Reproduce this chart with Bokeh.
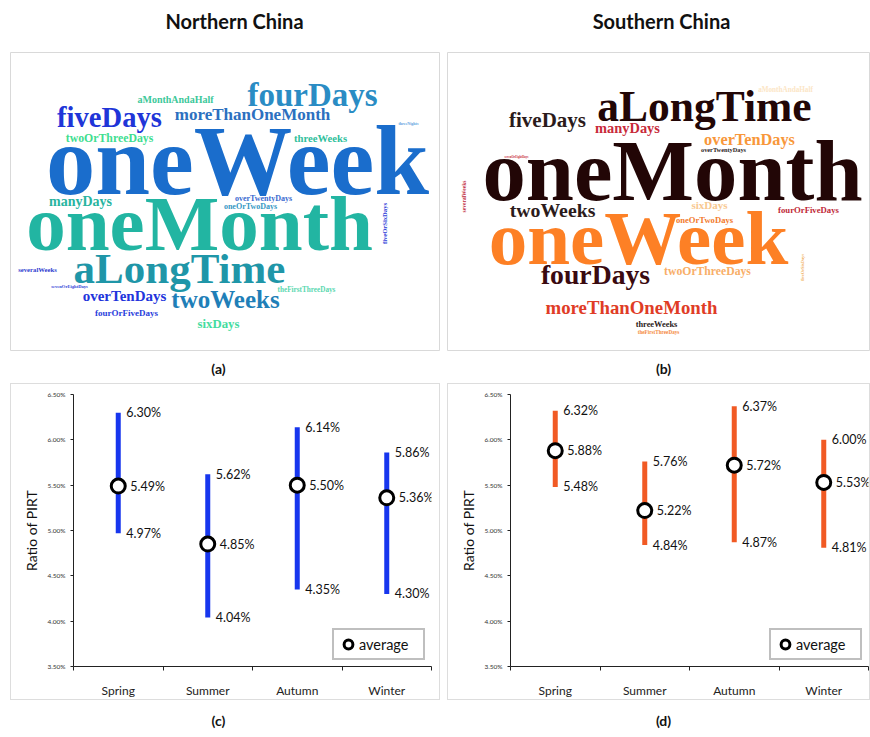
import math
from bokeh.plotting import figure
from bokeh.layouts import column, row
from bokeh.models import (ColumnDataSource, Range1d, FixedTicker, Legend, LegendItem)
from bokeh.core.properties import value
from bokeh.embed import file_html
from bokeh.resources import INLINE

# ---------------- data ----------------
seasons = ["Spring", "Summer", "Autumn", "Winter"]
north_max = [6.30, 5.62, 6.14, 5.86]
north_avg = [5.49, 4.85, 5.50, 5.36]
north_min = [4.97, 4.04, 4.35, 4.30]
south_max = [6.32, 5.76, 6.37, 6.00]
south_avg = [5.88, 5.22, 5.72, 5.53]
south_min = [5.48, 4.84, 4.87, 4.81]
y_ticks = [3.50, 4.00, 4.50, 5.00, 5.50, 6.00, 6.50]

north_words = ["oneWeek", "oneMonth", "aLongTime", "fourDays", "fiveDays", "moreThanOneMonth",
               "aMonthAndaHalf", "twoOrThreeDays", "threeWeeks", "threeNights", "manyDays",
               "overTwentyDays", "oneOrTwoDays", "severalWeeks", "sevenOrEightDays",
               "theFirstThreeDays", "overTenDays", "twoWeeks", "fourOrFiveDays", "sixDays",
               "fiveOrSixDays"]
south_words = ["oneMonth", "oneWeek", "aLongTime", "fiveDays", "manyDays", "overTenDays",
               "overTwentyDays", "aMonthAndaHalf", "sevenOrEightDays", "twoWeeks", "sixDays",
               "oneOrTwoDays", "fourOrFiveDays", "fourDays", "twoOrThreeDays",
               "moreThanOneMonth", "threeWeeks", "theFirstThreeDays", "severalWeeks",
               "fiveOrSixDays"]

# ---------------- word-cloud layout (positions in page pixels / sizes / styles) ----------------
north_x = [237, 199, 179, 312, 109, 252, 175, 109, 320, 408, 80, 263, 250, 37, 69, 306, 124, 225, 126, 218, 384]
north_base = [192, 248, 282, 105, 126, 119, 102, 141, 141, 124, 205, 201, 209, 271, 287, 292, 300, 307, 315, 328, 223]
north_size = [98.5, 79, 43, 33, 28.6, 17, 10, 11.8, 10.7, 4, 14, 8, 8, 6.7, 4.6, 7.2, 15, 25, 9, 12.8, 6.6]
north_color = ["#1a6dcc", "#22b5a2", "#1f96a8", "#2a8cc4", "#2035d8", "#2c70c0", "#3cc89a",
               "#40de90", "#30c09c", "#5aa0e0", "#28b4a0", "#3a6ad0", "#3598c4", "#3040d0",
               "#3548d8", "#5ad8b0", "#2234dc", "#1f7fb8", "#2a40dc", "#44dca0", "#3040d8"]
north_vertical = [False] * 20 + [True]

south_x = [672, 638, 704, 547, 627, 749, 723, 785, 516, 552, 709, 704, 808, 595, 707, 631, 656, 658, 463, 802]
south_base = [198, 262, 119, 126, 132, 144, 151, 92, 157, 216, 208, 222, 212, 283, 275, 313, 327, 333, 196, 267]
south_size = [86.6, 77, 43.5, 21, 14.4, 16.3, 6.3, 7.2, 3, 19.8, 11, 8.6, 8.7, 27.7, 11.7, 18.8, 8.4, 5.2, 5.5, 4.3]
south_color = ["#220606", "#fd8025", "#220606", "#2b1b1b", "#c82a3a", "#f8973a", "#2b1b1b",
               "#fce6c6", "#c82a3a", "#2b1b1b", "#f8c890", "#f27a2c", "#c02838", "#3a0a10",
               "#f8ae68", "#e03c26", "#2b1b1b", "#f58a40", "#c02a3a", "#f0b060"]
south_vertical = [False] * 18 + [True, True]

SANS = "Lato"
SERIF = "Liberation Serif"


def base_fig(width, height, xr, yr, **kw):
    p = figure(width=width, height=height, x_range=xr, y_range=yr,
               output_backend="svg", toolbar_location=None,
               x_axis_location=None, y_axis_location=None,
               min_border_left=0, min_border_right=0, min_border_top=0, min_border_bottom=0,
               outline_line_color=None, border_fill_color="white",
               background_fill_color="white", **kw)
    p.xgrid.visible = False
    p.ygrid.visible = False
    return p


def label_fig(text, width, height, x0, x1, cx, cy, size, margin_left):
    p = base_fig(width, height, Range1d(x0, x1), Range1d(height, 0),
                 margin=(0, 0, 0, margin_left))
    p.text(x=[cx], y=[cy], text=[text], text_align="center", text_baseline="middle",
           text_font=value(SANS), text_font_style="bold", text_font_size=size,
           text_color="#111111")
    return p


def cloud_fig(words, xs, bases, sizes, colors, vertical, x0, x1, width, margin_left):
    p = base_fig(width, 299, Range1d(x0, x1), Range1d(351, 52), margin=(0, 0, 0, margin_left))
    p.outline_line_color = "#d9d9d9"
    p.outline_line_width = 1
    h = dict(w=[], x=[], y=[], fs=[], c=[])
    v = dict(w=[], x=[], y=[], fs=[], c=[])
    for w, x, y, s, c, vert in zip(words, xs, bases, sizes, colors, vertical):
        d = v if vert else h
        d["w"].append(w); d["x"].append(x)
        d["y"].append(y if vert else y - 0.32 * s)
        d["fs"].append(f"{s}px"); d["c"].append(c)
    for d, ang in ((h, 0), (v, math.pi / 2)):
        p.text(x="x", y="y", text="w", text_font_size="fs", text_color="c",
               source=ColumnDataSource(d), text_align="center", text_baseline="middle",
               angle=ang, text_font=value(SERIF), text_font_style="bold")
    return p


def range_fig(mx, av, mn, color, width, margin_left, border_right):
    p = figure(width=width, height=317, x_range=Range1d(0, len(seasons)),
               y_range=Range1d(y_ticks[0], y_ticks[-1]),
               output_backend="svg", toolbar_location=None,
               min_border_left=63, min_border_right=border_right,
               min_border_top=11, min_border_bottom=31,
               outline_line_color=None, border_fill_alpha=0, background_fill_alpha=0,
               margin=(0, 0, 0, margin_left),
               styles={"box-shadow": "inset 0 0 0 1px #dddddd"})
    p.xgrid.visible = False
    p.ygrid.visible = False
    xs = [i + 0.5 for i in range(len(seasons))]
    p.segment(x0=xs, y0=mn, x1=xs, y1=mx, line_width=5, line_color=color)
    circ = p.scatter(x=xs, y=av, size=14, fill_color="white", line_color="black", line_width=3)
    common = dict(text_font=value(SANS), text_font_size="12.5px", text_color="#111111",
                  text_baseline="middle", text_align="left")
    p.text(x=xs, y=mx, text=[f"{t:.2f}%" for t in mx], x_offset=8, **common)
    p.text(x=xs, y=mn, text=[f"{t:.2f}%" for t in mn], x_offset=8, **common)
    p.text(x=xs, y=av, text=[f"{t:.2f}%" for t in av], x_offset=12, **common)

    ya = p.yaxis[0]
    ya.ticker = FixedTicker(ticks=y_ticks)
    ya.major_label_overrides = {t: f"{t:.2f}%" for t in y_ticks}
    ya.major_label_text_font = SANS
    ya.major_label_text_font_size = "6.5px"
    ya.major_label_text_color = "#333333"
    ya.major_tick_in = 0
    ya.major_tick_out = 3
    ya.minor_tick_line_color = None
    ya.axis_label = "Ratio of PIRT"
    ya.axis_label_text_font = SANS
    ya.axis_label_text_font_size = "14px"
    ya.axis_label_text_font_style = "normal"
    ya.axis_label_text_color = "#111111"
    ya.axis_label_standoff = 4
    ya.axis_line_color = "#222222"
    ya.major_tick_line_color = "#222222"

    xa = p.xaxis[0]
    xa.ticker = FixedTicker(ticks=xs, minor_ticks=list(range(len(seasons) + 1)))
    xa.major_label_overrides = {x: s for x, s in zip(xs, seasons)}
    xa.major_tick_line_color = None
    xa.minor_tick_in = 0
    xa.minor_tick_out = 4
    xa.minor_tick_line_color = "#222222"
    xa.axis_line_color = "#222222"
    xa.major_label_text_font = SANS
    xa.major_label_text_font_size = "12px"
    xa.major_label_text_color = "#222222"
    xa.major_label_standoff = 10

    legend = Legend(items=[LegendItem(label="average", renderers=[circ])],
                    location="bottom_right", border_line_color="#808080",
                    border_line_width=2, padding=3, margin=6, spacing=0,
                    glyph_width=22, glyph_height=22, label_standoff=0,
                    label_width=61, label_height=22,
                    label_text_font=SANS, label_text_font_size="14.5px",
                    label_text_color="#111111")
    p.add_layout(legend)
    return p


LW, RW = 430, 423
titles = row(label_fig("Northern China", LW, 52, 10, 440, 234, 20, "20px", 10),
             label_fig("Southern China", RW, 52, 447, 870, 661, 20, "20px", 7))
clouds = row(cloud_fig(north_words, north_x, north_base, north_size, north_color, north_vertical,
                       10, 440, LW, 10),
             cloud_fig(south_words, south_x, south_base, south_size, south_color, south_vertical,
                       447, 870, RW, 7))
lab_ab = row(label_fig("(a)", LW, 32, 10, 440, 218, 17, "14px", 10),
             label_fig("(b)", RW, 32, 447, 870, 663, 17, "14px", 7))
charts = row(range_fig(north_max, north_avg, north_min, "#1736ee", LW, 10, 9),
             range_fig(south_max, south_avg, south_min, "#f15a24", RW, 7, 2))
lab_cd = row(label_fig("(c)", LW, 37, 10, 440, 218, 20, "14px", 10),
             label_fig("(d)", RW, 37, 447, 870, 663, 20, "14px", 7))

layout = column(titles, clouds, lab_ab, charts, lab_cd)
open("out.html", "w").write(file_html(layout, INLINE))
